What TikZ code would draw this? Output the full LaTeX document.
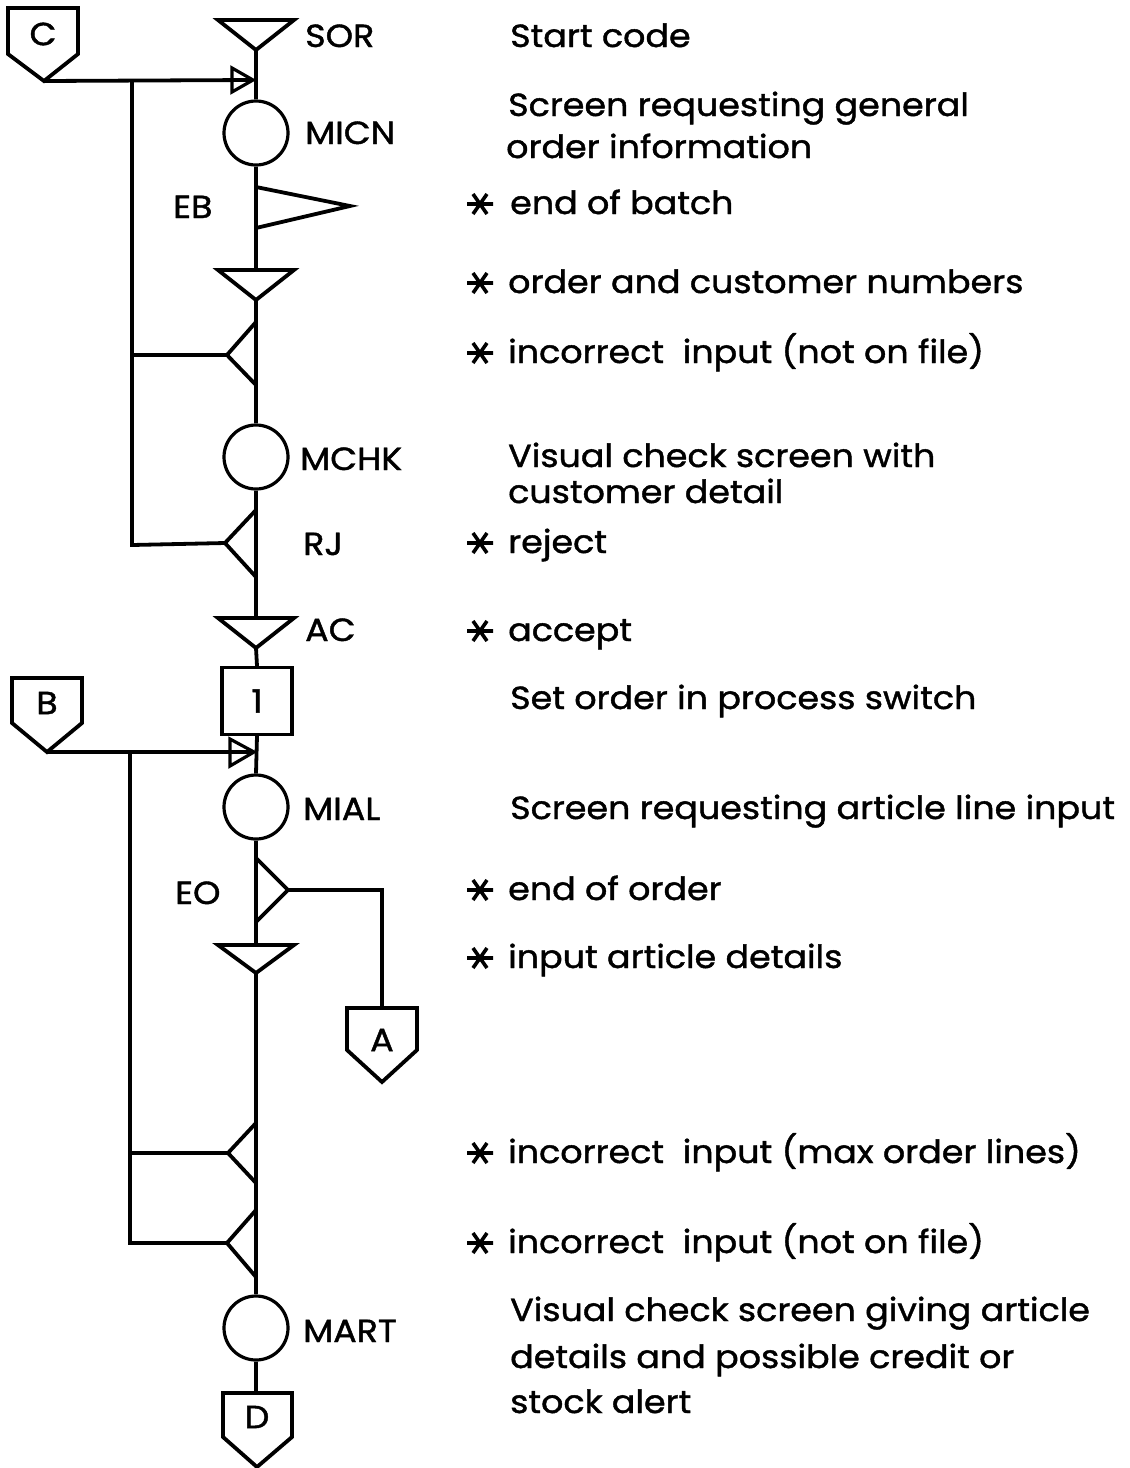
\documentclass[tikz,border=0pt]{standalone}
\usepackage{fontspec}
\setmainfont{Poppins}[FakeStretch=1.09,FakeBold=1.3]
\begin{document}
\begin{tikzpicture}[x=1pt,y=-1pt,
  ln/.style={line width=3.8pt,line join=miter},
  thin/.style={line width=3.2pt},
  proc/.style={circle,draw,line width=3.2pt,minimum size=64pt,inner sep=0pt},
  lbl/.style={anchor=base west,inner sep=0pt,font=\fontsize{32}{38}\selectfont},
  txt/.style={anchor=base west,inner sep=0pt,font=\fontsize{32}{38}\selectfont},
  ctr/.style={inner sep=0pt,font=\fontsize{32}{38}\selectfont},
  star/.pic={\draw[line width=3.6pt] (-13,0) -- (13,0) (-7,-10) -- (7,10) (-7,10) -- (7,-10);}
]
\useasboundingbox (0,0) rectangle (1130,1468);

% ---- circles (screens)
\node[proc] (micn) at (256,133) {};
\node[proc] (mchk) at (256,457) {};
\node[proc] (mial) at (256,807) {};
\node[proc] (mart) at (256,1328) {};
\node[draw,line width=3.2pt,minimum width=70pt,minimum height=67pt,inner sep=0pt,font=\fontsize{32}{38}\selectfont] (sw) at (257,701) {1};

% ---- triangles on the main line
\coordinate (sorA) at (256,50);
\coordinate (onT) at (256,270);
\coordinate (onA) at (256,300);
\coordinate (acT) at (256,618);
\coordinate (acA) at (256,648);
\coordinate (iaT) at (256,945);
\coordinate (iaA) at (256,973);
\coordinate (ebA) at (350,206);
\coordinate (inA) at (227,355);
\coordinate (rjA) at (225,543);
\coordinate (eoA) at (288,890);
\coordinate (mxA) at (228,1153);
\coordinate (nfA) at (227,1243);
\coordinate (cT) at (253,80);
\coordinate (bT) at (254,752);

\draw[ln] (218,20) -- (294,20) -- (sorA) -- cycle;
\draw[ln] (218,270) -- (294,270) -- (onA) -- cycle;
\draw[ln] (218,618) -- (294,618) -- (acA) -- cycle;
\draw[ln] (218,945) -- (294,945) -- (iaA) -- cycle;
\draw[ln] (256,187) -- (ebA) -- (256,228) -- cycle;
\draw[ln] (256,322) -- (inA) -- (256,385) -- cycle;
\draw[ln] (256,510) -- (rjA) -- (256,577) -- cycle;
\draw[ln] (256,858) -- (eoA) -- (256,922) -- cycle;
\draw[ln] (256,1123) -- (mxA) -- (256,1183) -- cycle;
\draw[ln] (256,1210) -- (nfA) -- (256,1277) -- cycle;
\draw[thin] (232,68) -- (cT) -- (232,92) -- cycle;
\draw[thin] (230,739) -- (bT) -- (230,766) -- cycle;

% ---- off-page connectors
\draw[ln] (8,8) -- (78,8) -- (78,54) -- (44,81) -- (8,54) -- cycle;
\node[ctr] (c) at (43,34) {C};
\coordinate (cP) at (44,81);
\draw[ln] (12,678) -- (82,678) -- (82,723) -- (47,752) -- (12,723) -- cycle;
\node[ctr] (b) at (47,703) {B};
\coordinate (bP) at (47,752);
\draw[ln] (347,1008) -- (417,1008) -- (417,1050) -- (382,1082) -- (347,1050) -- cycle;
\node[ctr] (a) at (382,1040) {A};
\coordinate (aT) at (382,1008);
\draw[ln] (223,1393) -- (292,1393) -- (292,1437) -- (257,1467) -- (223,1437) -- cycle;
\node[ctr] (d) at (257,1417) {D};
\coordinate (dT) at (256,1393);

% ---- main line
\draw[ln] (sorA) -- (micn.north);
\draw[ln] (micn.south) -- (onT);
\draw[ln] (onA) -- (mchk.north);
\draw[ln] (mchk.south) -- (acT);
\draw[ln] (acA) -- (sw.north);
\draw[ln] (sw.south) -- (mial.north);
\draw[ln] (mial.south) -- (iaT);
\draw[ln] (iaA) -- (mart.north);
\draw[ln] (mart.south) -- (dT);

% ---- branches
\draw[ln] (cP) -- (cT);
\draw[ln] (132,80) -- (132,545) -- (rjA);
\draw[ln] (132,355) -- (inA);
\draw[ln] (bP) -- (bT);
\draw[ln] (130,752) -- (130,1243) -- (nfA);
\draw[ln] (130,1153) -- (mxA);
\draw[ln] (eoA) -| (aT);

% ---- symbol labels
\node[lbl] (lsor) at (305,47) {SOR};
\node[lbl] (lmicn) at (305,144) {MICN};
\node[lbl] (leb) at (173,218) {EB};
\node[lbl] (lmchk) at (300,470) {MCHK};
\node[lbl] (lrj) at (303,555) {RJ};
\node[lbl] (lac) at (305,641) {AC};
\node[lbl] (lmial) at (303,820) {MIAL};
\node[lbl] (leo) at (175,904) {EO};
\node[lbl] (lmart) at (303,1342) {MART};

% ---- descriptions
\node[txt] (t1) at (510,47) {Start code};
\node[txt] (t2) at (508,116) {Screen requesting general};
\node[txt] (t3) at (506,158) {order information};
\node[txt] (t4) at (510,214) {end of batch};
\node[txt] (t5) at (508,293) {order and customer numbers};
\node[txt] (t6) at (508,363) {incorrect\ \ input (not on file)};
\node[txt] (t7) at (508,467) {Visual check screen with};
\node[txt] (t8) at (508,503) {customer detail};
\node[txt] (t9) at (508,553) {reject};
\node[txt] (t10) at (508,641) {accept};
\node[txt] (t11) at (510,709) {Set order in process switch};
\node[txt] (t12) at (510,819) {Screen requesting article line input};
\node[txt] (t13) at (508,900) {end of order};
\node[txt] (t14) at (508,968) {input article details};
\node[txt] (t15) at (508,1163) {incorrect\ \ input (max order lines)};
\node[txt] (t16) at (508,1253) {incorrect\ \ input (not on file)};
\node[txt] (t17) at (510,1321) {Visual check screen giving article};
\node[txt] (t18) at (510,1368) {details and possible credit or};
\node[txt] (t19) at (510,1413) {stock alert};

% ---- asterisks
\foreach \yy in {204,283,353,543,631,890,958,1153,1243}
  \pic at (480,\yy) {star};
\end{tikzpicture}
\end{document}
